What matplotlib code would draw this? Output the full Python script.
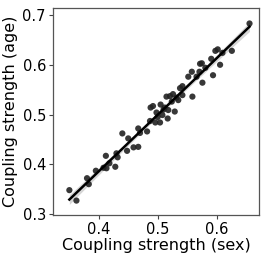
import numpy as np
import matplotlib.pyplot as plt

# coupling strengths
sex = [0.350, 0.362, 0.380, 0.383, 0.395, 0.408, 0.413, 0.412, 0.418, 0.428,
       0.430, 0.432, 0.440, 0.448, 0.450, 0.459, 0.467, 0.467, 0.470, 0.482,
       0.487, 0.488, 0.492, 0.496, 0.498, 0.504, 0.505, 0.508, 0.512, 0.515,
       0.517, 0.518, 0.521, 0.524, 0.526, 0.529, 0.532, 0.535, 0.538, 0.542,
       0.542, 0.552, 0.558, 0.559, 0.566, 0.571, 0.572, 0.575, 0.576, 0.581,
       0.591, 0.594, 0.598, 0.602, 0.606, 0.610, 0.626, 0.656, 0.500, 0.510]
age = [0.348, 0.327, 0.372, 0.360, 0.387, 0.393, 0.392, 0.417, 0.402, 0.395,
       0.422, 0.414, 0.462, 0.427, 0.452, 0.434, 0.435, 0.472, 0.463, 0.466,
       0.487, 0.514, 0.517, 0.484, 0.504, 0.484, 0.520, 0.499, 0.514, 0.536,
       0.492, 0.509, 0.537, 0.526, 0.541, 0.506, 0.534, 0.529, 0.553, 0.557,
       0.539, 0.576, 0.586, 0.536, 0.576, 0.586, 0.602, 0.603, 0.564, 0.594,
       0.612, 0.579, 0.628, 0.631, 0.600, 0.624, 0.628, 0.683, 0.495, 0.510]

x = np.array(sex)
y = np.array(age)

fig = plt.figure(figsize=(2.74, 2.6), dpi=100)
ax = fig.add_axes([0.193, 0.173, 0.752, 0.796])

ax.scatter(x, y, s=20, color='#222222', alpha=0.9, edgecolors='none', zorder=3)

# regression line with thin band
b, a = np.polyfit(x, y, 1)
xs = np.linspace(x.min(), x.max(), 100)
ys = a + b * xs
n = len(x)
res = y - (a + b * x)
se = np.sqrt(np.sum(res ** 2) / (n - 2))
band = 1.96 * se * np.sqrt(1 / n + (xs - x.mean()) ** 2 / np.sum((x - x.mean()) ** 2))
ax.fill_between(xs, ys - band, ys + band, color='#bbbbbb', alpha=0.6, lw=0, zorder=2)
ax.plot(xs, ys, color='black', lw=1.8, zorder=4)

ax.set_xlim(0.322, 0.672)
ax.set_ylim(0.298, 0.714)
ax.set_xticks([0.4, 0.5, 0.6])
ax.set_yticks([0.3, 0.4, 0.5, 0.6, 0.7])
ax.tick_params(labelsize=10.5, length=3, pad=2, color='#444444')
for s in ax.spines.values():
    s.set_color('#555555')
    s.set_linewidth(0.9)
ax.set_xlabel('Coupling strength (sex)', fontsize=11.5, labelpad=1)
ax.set_ylabel('Coupling strength (age)', fontsize=11.5, labelpad=3)

fig.savefig('out.png', dpi=100)
